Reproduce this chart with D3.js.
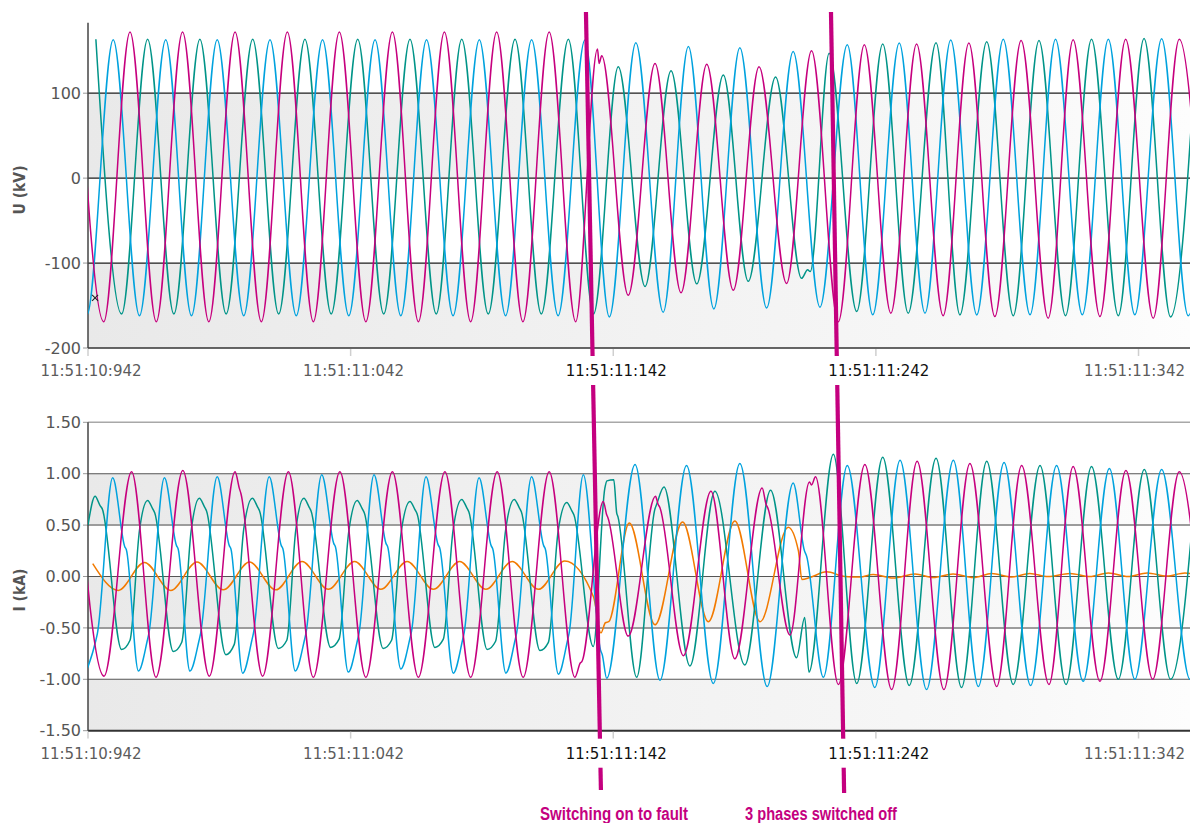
<!DOCTYPE html>
<html><head><meta charset="utf-8">
<script src="https://cdn.jsdelivr.net/npm/d3@7"></script>
<style>body{margin:0;background:#fff}svg{display:block}</style>
</head><body><svg id="c" width="1192" height="823"></svg>
<script>
// ---------- axis data ----------
const tickTimes = [0, 100, 200, 300, 400]; // ms after 11:51:10.942
const tickLabels = ["11:51:10:942", "11:51:11:042", "11:51:11:142", "11:51:11:242", "11:51:11:342"];
const highlightedTicks = ["11:51:11:142", "11:51:11:242"];
const uTicks = [100, 0, -100, -200];
const iTicks = [1.5, 1.0, 0.5, 0, -0.5, -1.0, -1.5];
const uBands = [[-200, -100], [0, 100]];
const iBands = [[-1.5, -1.0], [-0.5, 0], [0.5, 1.0]];

// ---------- voltage extrema [ms, kV] ----------
const uMagenta = [[-4,171],[6,-169],[16,172],[26,-169],[36,172],[46,-169],[56,172],[66,-169],[75.9,172],[85.8,-169],[95.7,172],[105.8,-169],[115.9,172],[125.8,-169],[135.7,172],[145.7,-169],[155.6,172],[165.6,-169],[175.6,172],[185.7,-169],[194.0,152],[194.6,135],[195.6,144],[205.7,-138],[215.9,135],[225.8,-135],[235.6,134],[245.7,-132],[255.5,131],[266.0,-124],[275.5,150],[285.7,-169],[295.6,157],[305.7,-159],[315.5,158],[325.6,-162],[335.4,159],[345.3,-163],[355.3,162],[365.6,-165],[375.1,163],[385.3,-163],[395.1,163.5],[405.6,-165],[415.5,163.5],[425.5,-165]];
const uTeal = [[3.0,163.5],[12.8,-160],[22.7,163.5],[32.7,-160],[42.6,163.5],[52.6,-160],[62.7,163.5],[72.6,-160],[82.6,163.5],[92.6,-160],[102.7,163.5],[112.6,-160],[122.6,163.5],[132.6,-160],[142.3,163.5],[152.4,-160],[162.6,163.5],[172.6,-160],[182.9,163.5],[192.5,-160],[201.9,131],[212.1,-127.5],[222.0,126.5],[231.8,-124.5],[241.9,121.5],[251.4,-121.5],[261.8,119],[271.7,-118],[274.0,-108],[275.0,-110],[282.2,147],[292.7,-157],[302.6,158],[312.3,-159],[322.9,159.5],[332.0,-161],[342.2,160.5],[352.3,-162],[362.1,162],[372.2,-162],[382.1,163.5],[392.3,-162],[402.1,164.5],[412.2,-163.5],[422.2,164]];
const uBlue = [[-10.4,162],[-0.4,-161],[9.6,163],[19.6,-162],[29.6,163],[39.4,-162],[49.2,163],[59.3,-162],[69.3,163],[79.3,-162],[89.3,163],[99.3,-162],[109.3,163],[119.1,-162],[128.9,163],[139.0,-162],[149.0,163],[159.0,-162],[168.9,163],[179.0,-162],[189.2,162.5],[198.5,-163.5],[208.6,159.5],[219.0,-158],[228.6,155],[238.3,-154],[248.2,153.5],[258.4,-153],[268.5,149],[278.7,-152],[289.1,157],[298.8,-161],[308.9,159],[318.7,-159],[328.5,162.5],[338.4,-161],[348.5,163.5],[358.7,-161],[368.4,163.5],[378.6,-161],[388.5,163.5],[398.6,-161],[408.8,164],[418.9,-162],[428.9,164]];

// ---------- current samples [ms, kA] ----------
const iMagenta = [[-4,1.0],[6.1,-0.97],[16.6,1.02],[25.9,-0.98],[36.1,1.03],[46.2,-0.97],[56.0,1.02],[57.6,0.86],[58.2,0.81],[66.5,-0.97],[76.3,1.02],[85.8,-0.98],[95.9,1.02],[105.8,-0.98],[115.9,1.02],[125.8,-0.98],[135.9,1.02],[145.7,-0.98],[155.8,1.02],[165.7,-0.98],[175.6,1.02],[185.4,-0.98],[187.5,-0.84],[188.0,-0.83],[196.2,0.73],[197.5,0.60],[198.0,0.57],[205.7,-0.58],[216.1,0.78],[217.1,0.70],[217.6,0.68],[226.7,-0.77],[237.2,0.83],[246.3,-0.80],[256.7,0.86],[258.2,0.70],[258.8,0.67],[267.3,-0.57],[274.7,0.92],[275.5,0.89],[277.0,0.97],[285.7,-1.05],[295.8,1.09],[306.0,-1.10],[315.7,1.12],[325.9,-1.10],[335.8,1.10],[346.0,-1.07],[355.5,1.08],[365.9,-1.05],[375.1,1.07],[385.3,-1.02],[395.2,1.03],[405.4,-1.00],[415.5,1.02],[425.3,-1.0]];
const iTeal = [[0,0.50],[2.7,0.78],[4.6,0.69],[5.4,0.66],[12.8,-0.71],[16.0,-0.62],[19.6,0.45],[22.7,0.74],[24.6,0.66],[25.4,0.62],[32.5,-0.73],[35.7,-0.64],[39.3,0.45],[42.4,0.76],[44.3,0.68],[45.1,0.64],[52.5,-0.76],[55.7,-0.66],[59.3,0.46],[62.6,0.76],[64.5,0.68],[65.3,0.64],[72.5,-0.70],[75.7,-0.62],[79.1,0.45],[82.2,0.76],[84.1,0.68],[84.9,0.64],[92.4,-0.69],[95.6,-0.61],[99.3,0.44],[102.5,0.74],[104.4,0.66],[105.2,0.62],[112.4,-0.70],[115.6,-0.62],[119.3,0.44],[122.6,0.73],[124.5,0.65],[125.3,0.61],[132.1,-0.69],[135.3,-0.61],[139.0,0.45],[142.3,0.75],[144.2,0.67],[145.0,0.63],[152.0,-0.71],[155.2,-0.63],[159.0,0.45],[162.3,0.75],[164.2,0.67],[165.0,0.63],[172.1,-0.72],[175.3,-0.64],[179.0,0.44],[182.3,0.72],[184.2,0.64],[185.0,0.60],[192.4,-0.68],[196.8,0.86],[197.6,0.93],[200.2,0.94],[201.3,0.62],[201.8,0.58],[208.9,-0.98],[215.9,0.66],[216.5,0.70],[219.3,0.87],[229.2,-0.87],[238.7,0.83],[250.1,-0.86],[259.9,0.84],[269.8,-0.79],[272.9,-0.40],[274.5,-0.93],[283.8,1.19],[292.7,-1.04],[302.6,1.16],[312.7,-1.06],[322.9,1.15],[332.6,-1.08],[342.2,1.12],[352.3,-1.05],[362.5,1.08],[372.4,-1.05],[382.1,1.07],[392.3,-1.00],[402.2,1.04],[412.2,-1.00],[422.2,1.02]];
const iBlue = [[-0.6,-0.92],[3.0,-0.62],[3.6,-0.55],[9.4,0.96],[14.0,0.29],[14.6,0.26],[19.2,-0.92],[22.6,-0.62],[23.2,-0.55],[29.1,0.96],[33.7,0.30],[34.3,0.27],[38.8,-0.92],[42.3,-0.62],[42.9,-0.55],[49.2,0.97],[53.8,0.30],[54.4,0.27],[58.9,-0.94],[62.4,-0.62],[63.0,-0.55],[69.0,0.97],[73.6,0.30],[74.2,0.27],[78.9,-0.92],[82.4,-0.62],[83.0,-0.55],[89.0,0.99],[93.6,0.32],[94.2,0.29],[99.1,-0.93],[102.6,-0.62],[103.2,-0.55],[108.9,0.99],[113.5,0.32],[114.1,0.29],[119.1,-0.90],[122.6,-0.60],[123.2,-0.53],[128.7,0.97],[133.3,0.31],[133.9,0.28],[139.1,-0.94],[142.6,-0.62],[143.2,-0.55],[148.9,0.96],[153.5,0.30],[154.1,0.27],[159.1,-0.94],[162.6,-0.62],[163.2,-0.55],[168.9,0.97],[173.5,0.30],[174.1,0.27],[179.1,-0.95],[182.6,-0.62],[183.2,-0.55],[188.6,0.99],[195.2,-0.72],[195.8,-0.76],[197.5,-0.99],[208.3,1.09],[217.8,-1.01],[227.9,1.08],[238.1,-1.04],[248.2,1.10],[258.6,-1.07],[268.5,0.91],[272.8,0.25],[273.6,0.20],[280.0,-0.98],[289.1,1.08],[299.6,-1.08],[309.2,1.13],[319.3,-1.10],[329.5,1.13],[339.0,-1.07],[348.8,1.11],[358.9,-1.06],[368.8,1.08],[378.9,-1.02],[388.9,1.05],[398.6,-1.00],[408.8,1.04],[419.6,-1.00],[429.5,1.0]];
const iNeutral = [[1.8,0.125],[11.5,-0.135],[21.5,0.137],[31.5,-0.136],[41.5,0.14],[51.5,-0.13],[61.5,0.14],[71.5,-0.13],[81.5,0.145],[91.5,-0.125],[101.5,0.145],[111.5,-0.125],[121.5,0.145],[131.5,-0.125],[141.5,0.145],[151.5,-0.125],[161.5,0.145],[171.5,-0.125],[181.5,0.15],[192.5,-0.20],[195.3,-0.55],[197.0,-0.45],[198.3,-0.44],[206.1,0.52],[215.9,-0.47],[226.4,0.53],[236.2,-0.44],[246.3,0.54],[255.9,-0.44],[266.6,0.48],[270.5,0.25],[271.8,-0.03],[274.9,-0.01],[281.2,0.045],[288.2,0.0],[293.9,-0.005],[299.0,0.02],[306.5,-0.015],[314.9,0.025],[321.8,-0.01],[329.4,0.025],[337.1,-0.01],[344.1,0.03],[351.7,-0.005],[358.6,0.03],[365.5,0.0],[373.9,0.03],[381.5,0.0],[388.5,0.035],[396.0,0.0],[403.3,0.035],[410.8,0.005],[417.7,0.035],[419.6,0.03]];

// ---------- events ----------
const eventLabels = ["Switching on to fault", "3 phases switched off"];
const eventTimesTop = [189.6, 282.9];
const eventTimesBottom = [195.3, 287.9];
const eventLabelTimes = [200.3, 279.1];
const cursorMark = [2.7, -141];

// ---------- layout & styles ----------
const COL = {magenta: "#c6007e", teal: "#009488", blue: "#00a2de", orange: "#f27a00", event: "#c4007f"};
const FONT = "'DejaVu Sans', sans-serif";
const svg = d3.select("#c");
const x = d3.scaleLinear().domain([0, 419.6]).range([88, 1190]);
const yU = d3.scaleLinear().domain([-200, 183]).range([348, 22.7]);
const yI = d3.scaleLinear().domain([-1.5, 1.5]).range([730.7, 422.3]);
const hyphen = f => v => f(v).replace("\u2212", "-");

const defs = svg.append("defs");
const grad = defs.append("linearGradient").attr("id", "band").attr("x1", 0).attr("x2", 1).attr("y1", 0).attr("y2", 0);
[[0, "#e9e9e9"], [0.45, "#f1f1f1"], [0.8, "#f7f7f7"], [1, "#fdfdfd"]].forEach(([o, c]) =>
  grad.append("stop").attr("offset", o).attr("stop-color", c));
defs.append("clipPath").attr("id", "clipU").append("rect").attr("x", 88).attr("y", 0).attr("width", 1102).attr("height", 348);
defs.append("clipPath").attr("id", "clipI").append("rect").attr("x", 88).attr("y", 422).attr("width", 1102).attr("height", 309);

function drawFrame(y, bands, ticks, gridStyle, fmt, title, titleY) {
  const g = svg.append("g");
  bands.forEach(b => g.append("rect").attr("x", x(0)).attr("width", x.range()[1] - x(0))
    .attr("y", y(b[1])).attr("height", y(b[0]) - y(b[1])).attr("fill", "url(#band)"));
  ticks.forEach(v => {
    const s = gridStyle(v);
    g.append("line").attr("x1", 88).attr("x2", 1190).attr("y1", y(v)).attr("y2", y(v))
      .attr("stroke", s[0]).attr("stroke-width", s[1]);
    g.append("line").attr("x1", 83).attr("x2", 88).attr("y1", y(v)).attr("y2", y(v)).attr("stroke", "#999").attr("stroke-width", 1);
    g.append("text").attr("x", 81).attr("y", y(v)).attr("dy", "0.36em").attr("text-anchor", "end")
      .attr("font-family", FONT).attr("font-size", 16).attr("fill", "#555").text(fmt(v));
  });
  const [y0, y1] = y.range();
  g.append("line").attr("x1", 88).attr("x2", 88).attr("y1", y1).attr("y2", y0).attr("stroke", "#444").attr("stroke-width", 1.5);
  tickTimes.forEach(t => g.append("line").attr("x1", x(t)).attr("x2", x(t)).attr("y1", y0 + 1).attr("y2", y0 + 8)
    .attr("stroke", "#cfcfcf").attr("stroke-width", 1.5));
  g.append("text").attr("transform", `translate(25,${titleY}) rotate(-90)`).attr("text-anchor", "middle")
    .attr("font-family", "'DejaVu Sans Condensed','DejaVu Sans',sans-serif").attr("font-weight", "bold").attr("font-size", 15.5)
    .attr("fill", "#555").text(title);
}

drawFrame(yU, uBands, uTicks, v => v === -200 ? ["#333", 1.6] : ["#1c1c1c", 1.2], hyphen(d3.format("d")), "U (kV)", 190);
drawFrame(yI, iBands, iTicks, v => {
  if (v === -1.5) return ["#333", 2];
  if (v === 1.5) return ["#a8a8a8", 1.5];
  if (Math.abs(v) === 0.5) return ["#9c9c9c", 2];
  return ["#555", 1.1];
}, hyphen(d3.format(".2f")), "I (kA)", 590);

function wave(y, data, color, clip, w) {
  const line = d3.line().x(d => x(d[0])).y(d => y(d[1])).curve(d3.curveMonotoneX);
  svg.append("path").attr("d", line(data)).attr("fill", "none").attr("stroke", color)
    .attr("stroke-width", w || 1.5).attr("stroke-linejoin", "round").attr("clip-path", `url(#${clip})`);
}
wave(yU, uTeal, COL.teal, "clipU");
wave(yU, uBlue, COL.blue, "clipU");
wave(yU, uMagenta, COL.magenta, "clipU");
wave(yI, iNeutral, COL.orange, "clipI");
wave(yI, iTeal, COL.teal, "clipI");
wave(yI, iBlue, COL.blue, "clipI");
wave(yI, iMagenta, COL.magenta, "clipI");

// cursor mark
const cx = x(cursorMark[0]), cy = yU(cursorMark[1]);
svg.append("path").attr("d", `M${cx-3},${cy-3}L${cx+3},${cy+3}M${cx-3},${cy+3}L${cx+3},${cy-3}`)
  .attr("stroke", "#222").attr("stroke-width", 1.1);

// event lines and labels
const labelWidths = [148, 152];
eventLabels.forEach((lab, i) => {
  svg.append("line").attr("x1", x(eventTimesTop[i])).attr("y1", 12)
    .attr("x2", x(eventTimesBottom[i])).attr("y2", 790 + i * 3)
    .attr("stroke", COL.event).attr("stroke-width", 4.2);
  svg.append("text").attr("x", x(eventLabelTimes[i])).attr("y", 820).attr("text-anchor", "middle")
    .attr("font-family", "'Liberation Sans','Arial',sans-serif").attr("font-weight", "bold")
    .attr("font-size", 17.5).attr("textLength", labelWidths[i]).attr("lengthAdjust", "spacingAndGlyphs")
    .attr("fill", COL.event).text(lab);
});

// x tick labels (with white backgrounds)
function xLabels(axisY) {
  tickTimes.forEach((t, i) => {
    const lab = tickLabels[i];
    const hi = highlightedTicks.includes(lab);
    const g = svg.append("g");
    const bg = g.append("rect");
    const tx = g.append("text").attr("x", x(t) + 3).attr("y", axisY + 28).attr("text-anchor", "middle")
      .attr("font-family", FONT).attr("font-size", 15).attr("fill", hi ? "#111" : "#5c5c5c").text(lab);
    const len = tx.node().getComputedTextLength();
    let cxp = x(t) + 3;
    if (cxp + len / 2 > 1185) cxp = 1185 - len / 2;
    tx.attr("x", cxp);
    bg.attr("x", cxp - len / 2 - 4).attr("width", len + 8).attr("y", axisY + 8).attr("height", 29).attr("fill", "#fff");
  });
}
xLabels(348);
xLabels(730.7);
</script></body></html>
